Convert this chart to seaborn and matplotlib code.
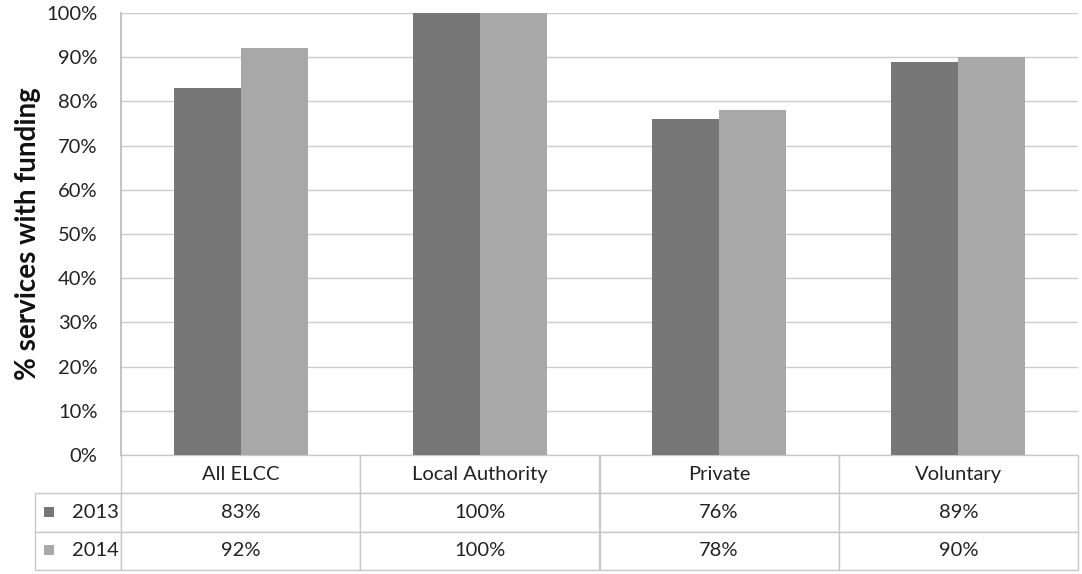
import pandas as pd
import matplotlib.pyplot as plt
import seaborn as sns
from matplotlib.patches import Rectangle
from matplotlib.ticker import PercentFormatter

# --- Datos ---
categorias = ['All ELCC', 'Local Authority', 'Private', 'Voluntary']
anios = ['2013', '2014']
valores_2013 = [83, 100, 76, 89]
valores_2014 = [92, 100, 78, 90]

colores = {'2013': '#777777', '2014': '#a8a8a8'}

df = pd.DataFrame({
    'categoria': categorias * 2,
    'anio': ['2013'] * len(categorias) + ['2014'] * len(categorias),
    'valor': valores_2013 + valores_2014,
})

sns.set_theme(style="white")
plt.rcParams['font.family'] = ['Lato', 'DejaVu Sans']

W, H = 1082, 574
fig = plt.figure(figsize=(W / 100, H / 100), dpi=100)
x0, x1, y_top, y_bot = 121, 1078, 13, 455
ax = fig.add_axes([x0 / W, 1 - y_bot / H, (x1 - x0) / W, (y_bot - y_top) / H])

sns.barplot(data=df, x='categoria', y='valor', hue='anio', order=categorias,
            hue_order=anios, palette=colores, width=0.56, saturation=1,
            linewidth=0, legend=False, ax=ax)

ax.set_ylim(0, 100)
ax.set_xlim(-0.5, len(categorias) - 0.5)
ax.set_yticks(range(0, 101, 10))
ax.yaxis.set_major_formatter(PercentFormatter(decimals=0))
ax.tick_params(axis='y', labelsize=14.5, colors='#222222', pad=17, length=0)
ax.set_xticks([])
ax.set_xlabel('')
ax.set_ylabel('% services with funding', fontsize=20, fontweight='bold',
              color='#111111', labelpad=4)
ax.yaxis.grid(True, color='#cccccc', linewidth=1)
ax.set_axisbelow(True)
for lado in ['top', 'right', 'bottom']:
    ax.spines[lado].set_visible(False)
ax.spines['left'].set_color('#bbbbbb')

# --- Tabla de datos bajo el gráfico ---
celdas = [[''] + categorias,
          ['2013'] + [f'{v}%' for v in valores_2013],
          ['2014'] + [f'{v}%' for v in valores_2014]]
ancho_ax = x1 - x0
alto_ax = y_bot - y_top
tx0 = 35
ty1 = 570
ancho_lbl = (x0 - tx0) / (x1 - tx0)
anchos = [ancho_lbl] + [(1 - ancho_lbl) / len(categorias)] * len(categorias)
tabla = ax.table(cellText=celdas, colWidths=anchos, cellLoc='center',
                 bbox=[(tx0 - x0) / ancho_ax, -(ty1 - y_bot) / alto_ax,
                       (x1 - tx0) / ancho_ax, (ty1 - y_bot) / alto_ax])
tabla.auto_set_font_size(False)
for (r, c), celda in tabla.get_celld().items():
    celda.set_edgecolor('#c8c8c8')
    celda.set_linewidth(1)
    celda.get_text().set_fontsize(14.5)
    celda.get_text().set_color('#222222')
    if r == 0 and c == 0:
        celda.visible_edges = ''
    if c == 0 and r > 0:
        celda.get_text().set_ha('right')
        celda.PAD = 0.03

# cuadritos de leyenda junto a los años
for i, anio in enumerate(anios):
    yc = 512 + i * 38
    fig.patches.append(Rectangle((44 / W, 1 - (yc + 5) / H), 10 / W, 10 / H,
                                 transform=fig.transFigure,
                                 facecolor=colores[anio], edgecolor='none'))

fig.savefig('out.png', dpi=100)
